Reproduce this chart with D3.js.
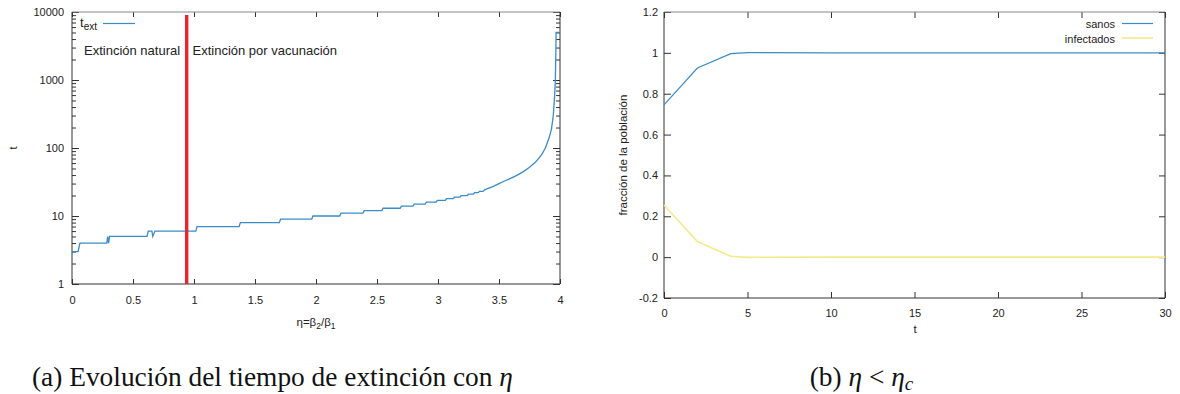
<!DOCTYPE html>
<html><head><meta charset="utf-8">
<script src="https://cdn.jsdelivr.net/npm/d3@7"></script>
<style>
html,body{margin:0;padding:0;background:#fff;}
svg{display:block;}
text{font-family:"Liberation Sans",Arial,sans-serif;fill:#222;}
</style></head>
<body>
<svg id="c" width="1180" height="394"></svg>
<script>
// ---------- data: (a) extinction time vs eta ----------
const etaVals = [0,0.05,0.065,0.285,0.292,0.300,0.308,0.615,0.625,0.655,0.662,0.68,1.015,1.025,1.37,1.38,1.70,1.71,1.965,1.975,2.195,2.205,2.385,2.395,2.54,2.55,2.69,2.70,2.795,2.805,2.895,2.905,2.985,2.995,3.06,3.07,3.125,3.135,3.18,3.19,3.24,3.25,3.29,3.30,3.33,3.34,3.37,3.38,3.40,3.45,3.5,3.55,3.6,3.65,3.7,3.75,3.8,3.85,3.88,3.91,3.93,3.945,3.955,3.962,3.966,3.968,3.995];
const tExtVals = [3,3,4,4,5,4,5,5,6,6,5,6,6,7,7,8,8,9,9,10,10,11,11,12,12,13,13,14,14,15,15,16,16,17,17,18,18,19,19,20,20,21,21,22,22,23,23,24,25,27,30,33,36,40,45,52,62,80,100,140,190,300,550,1000,2500,5000,5000];
const etaCritical = 0.94;
const etaCriticalSpan = [1, 9000];
const xTicksA = [0,0.5,1,1.5,2,2.5,3,3.5,4];
const xTickLabelsA = ["0","0.5","1","1.5","2","2.5","3","3.5","4"];
const yTicksA = [1,10,100,1000,10000];
const yTickLabelsA = ["1","10","100","1000","10000"];

// ---------- data: (b) population fractions ----------
const timeVals = [0,2,4,5,10,15,20,25,30];
const sanosVals = [0.745,0.926,0.996,1.001,1.0,1.0,1.0,1.0,1.0];
const infectadosVals = [0.255,0.076,0.004,-0.001,0.0,0.0,0.0,0.0,0.0];
const xTicksB = [0,5,10,15,20,25,30];
const yTicksB = [-0.2,0,0.2,0.4,0.6,0.8,1,1.2];
const yTickLabelsB = ["-0.2","0","0.2","0.4","0.6","0.8","1","1.2"];

const BLUE = "#3a8cc9", YELLOW = "#f3ea8a", RED = "#e8242c";

const svg = d3.select("#c");

// ================= panel (a) =================
const xA = d3.scaleLinear([0,4],[72,560]);
const yA = d3.scaleLog([1,10000],[284,12]);
const gA = svg.append("g");

function styleAxis(g){
  g.select(".domain").remove();
  g.selectAll(".tick line").attr("stroke","#333");
  g.selectAll(".tick text").attr("fill","#222").style("font-size","11px").style("font-family","Liberation Sans, Arial, sans-serif");
}
gA.append("g").attr("transform","translate(0,284)")
  .call(d3.axisBottom(xA).tickValues(xTicksA).tickFormat((d,i)=>xTickLabelsA[i]).tickSize(-5).tickPadding(12))
  .call(styleAxis);
gA.append("g").attr("transform","translate(0,12)")
  .call(d3.axisTop(xA).tickValues(xTicksA).tickFormat("").tickSize(-5))
  .call(styleAxis);
gA.append("g").attr("transform","translate(72,0)")
  .call(d3.axisLeft(yA).tickValues(yTicksA).tickFormat((d,i)=>yTickLabelsA[i]).tickSize(-7).tickPadding(8))
  .call(styleAxis);
gA.append("g").attr("transform","translate(560,0)")
  .call(d3.axisRight(yA).tickValues(yTicksA).tickFormat("").tickSize(-7))
  .call(styleAxis);
// minor log ticks
const minorA = [];
[1,10,100,1000].forEach(dec=>{for(let k=2;k<=9;k++) minorA.push(dec*k);});
gA.append("g").attr("transform","translate(72,0)")
  .call(d3.axisLeft(yA).tickValues(minorA).tickFormat("").tickSize(-4)).call(styleAxis);
gA.append("g").attr("transform","translate(560,0)")
  .call(d3.axisRight(yA).tickValues(minorA).tickFormat("").tickSize(-4)).call(styleAxis);
// border
gA.append("path").attr("d",`M${xA(0)},${yA(10000)}H${xA(4)}`).attr("stroke","#888").attr("fill","none");
gA.append("path").attr("d",`M${xA(0)},${yA(10000)}V${yA(1)}H${xA(4)}V${yA(10000)}`).attr("stroke","#333").attr("fill","none");

// data line
const lineA = d3.line().x((d,i)=>xA(etaVals[i])).y((d,i)=>yA(tExtVals[i]));
gA.append("path").datum(etaVals).attr("d",lineA).attr("fill","none").attr("stroke",BLUE).attr("stroke-width",1.3);

// critical line
gA.append("line").attr("x1",xA(etaCritical)).attr("x2",xA(etaCritical))
  .attr("y1",yA(etaCriticalSpan[0])).attr("y2",yA(etaCriticalSpan[1]))
  .attr("stroke",RED).attr("stroke-width",3.4);

// annotations
gA.append("text").attr("x",84).attr("y",55).style("font-size","13px").text("Extinción natural");
gA.append("text").attr("x",192.5).attr("y",55).style("font-size","13px").text("Extinción por vacunación");
// legend
const lgA = gA.append("text").attr("x",80).attr("y",27).style("font-size","13px");
lgA.append("tspan").text("t");
lgA.append("tspan").attr("dy",3).style("font-size","10px").text("ext");
gA.append("line").attr("x1",103).attr("x2",135).attr("y1",23.5).attr("y2",23.5).attr("stroke",BLUE).attr("stroke-width",1.2);
// axis labels
gA.append("text").attr("transform","translate(17,148) rotate(-90)").attr("text-anchor","middle").style("font-size","11px").text("t");
const xlab = gA.append("text").attr("x",316).attr("y",326).attr("text-anchor","middle").style("font-size","11.5px");
xlab.append("tspan").text("η=β");
xlab.append("tspan").attr("dy",3).style("font-size","8.5px").text("2");
xlab.append("tspan").attr("dy",-3).text("/β");
xlab.append("tspan").attr("dy",3).style("font-size","8.5px").text("1");

// ================= panel (b) =================
const xB = d3.scaleLinear([0,30],[664,1165]);
const yB = d3.scaleLinear([-0.2,1.2],[298,12]);
const gB = svg.append("g");
gB.append("g").attr("transform","translate(0,298)")
  .call(d3.axisBottom(xB).tickValues(xTicksB).tickFormat(d3.format("d")).tickSize(-6).tickPadding(11))
  .call(styleAxis);
gB.append("g").attr("transform","translate(0,12)")
  .call(d3.axisTop(xB).tickValues(xTicksB).tickFormat("").tickSize(-6))
  .call(styleAxis);
gB.append("g").attr("transform","translate(664,0)")
  .call(d3.axisLeft(yB).tickValues(yTicksB).tickFormat((d,i)=>yTickLabelsB[i]).tickSize(-7).tickPadding(6))
  .call(styleAxis);
gB.append("g").attr("transform","translate(1165,0)")
  .call(d3.axisRight(yB).tickValues(yTicksB).tickFormat("").tickSize(-6))
  .call(styleAxis);
gB.append("path").attr("d",`M${xB(0)},${yB(1.2)}H${xB(30)}`).attr("stroke","#888").attr("fill","none");
gB.append("path").attr("d",`M${xB(0)},${yB(1.2)}V${yB(-0.2)}H${xB(30)}V${yB(1.2)}`).attr("stroke","#333").attr("fill","none");

const lineS = d3.line().x((d,i)=>xB(timeVals[i])).y((d,i)=>yB(sanosVals[i]));
const lineI = d3.line().x((d,i)=>xB(timeVals[i])).y((d,i)=>yB(infectadosVals[i]));
gB.append("path").datum(timeVals).attr("d",lineI).attr("fill","none").attr("stroke",YELLOW).attr("stroke-width",1.6);
gB.append("path").datum(timeVals).attr("d",lineS).attr("fill","none").attr("stroke",BLUE).attr("stroke-width",1.2);

// legend
gB.append("text").attr("x",1115).attr("y",28).attr("text-anchor","end").style("font-size","11px").text("sanos");
gB.append("text").attr("x",1115).attr("y",42.5).attr("text-anchor","end").style("font-size","11px").text("infectados");
gB.append("line").attr("x1",1122).attr("x2",1153).attr("y1",23.5).attr("y2",23.5).attr("stroke",BLUE).attr("stroke-width",1.2);
gB.append("line").attr("x1",1122).attr("x2",1153).attr("y1",38).attr("y2",38).attr("stroke",YELLOW).attr("stroke-width",1.6);
// axis labels
gB.append("text").attr("transform","translate(627,155) rotate(-90)").attr("text-anchor","middle").style("font-size","11.5px").text("fracción de la población");
gB.append("text").attr("x",915).attr("y",333).attr("text-anchor","middle").style("font-size","11.5px").text("t");

// ================= captions =================
const capFont = "'Liberation Serif','DejaVu Serif',serif";
const capA = svg.append("text").attr("x",32).attr("y",386).style("font-family",capFont).style("font-size","22px").style("fill","#111");
capA.append("tspan").text("(a) Evolución del tiempo de extinción con ");
capA.append("tspan").style("font-style","italic").text("η");
const wA = capA.node().getComputedTextLength();
const fs = 22*481/wA;
capA.style("font-size",fs+"px");

const capB = svg.append("text").attr("x",861.5).attr("y",386).attr("text-anchor","middle").style("font-family",capFont).style("font-size",fs+"px").style("fill","#111");
capB.append("tspan").text("(b) ");
capB.append("tspan").style("font-style","italic").text("η");
capB.append("tspan").text(" < ");
capB.append("tspan").style("font-style","italic").text("η");
capB.append("tspan").attr("dy",4).style("font-style","italic").style("font-size",(fs*0.7)+"px").text("c");
</script>
</body></html>
